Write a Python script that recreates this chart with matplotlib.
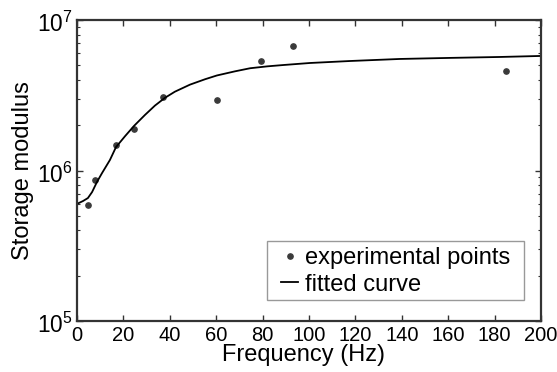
import matplotlib
matplotlib.use("Agg")
import matplotlib.pyplot as plt
from matplotlib.ticker import LogLocator, NullFormatter, FixedLocator
from matplotlib.patches import Rectangle
import matplotlib.transforms as mtransforms

plt.rcParams['font.family'] = ['Liberation Sans', 'DejaVu Sans']
plt.rcParams['mathtext.fontset'] = 'custom'
plt.rcParams['mathtext.rm'] = 'Liberation Sans'

# experimental points
exp_freq = [4.7, 7.8, 16.8, 24.6, 37.0, 60.2, 79.3, 93.1, 185.0]
exp_modulus = [5.9e5, 8.65e5, 1.48e6, 1.89e6, 3.08e6, 2.94e6, 5.34e6, 6.72e6, 4.58e6]

# fitted curve
fit_freq = [0.0, 2.6, 4.7, 6.5, 8.6, 10.8, 14.2, 16.8, 20.7, 24.6, 29.3, 33.6, 37.9,
            42.2, 48.7, 55.2, 60.3, 68.1, 74.6, 82.0, 88.8, 100.4, 117.7, 139.2,
            160.8, 182.3, 200.0]
fit_modulus = [6.0e5, 6.27e5, 6.56e5, 7.19e5, 8.39e5, 9.62e5, 1.175e6, 1.43e6, 1.69e6,
               1.98e6, 2.34e6, 2.70e6, 3.04e6, 3.34e6, 3.72e6, 4.04e6, 4.28e6, 4.56e6,
               4.78e6, 4.92e6, 5.02e6, 5.18e6, 5.34e6, 5.51e6, 5.60e6, 5.68e6, 5.77e6]

x_ticks = [0, 20, 40, 60, 80, 100, 120, 140, 160, 180, 200]
y_ticks = [1e5, 1e6, 1e7]
y_ticklabels = [r'$10^5$', r'$10^6$', r'$10^7$']

fig = plt.figure(figsize=(5.57, 3.72), dpi=100)
ax = fig.add_axes([77/557, 51/372, 464/557, 301/372])

ax.plot(exp_freq, exp_modulus, linestyle='none', marker='o', markersize=3.8,
        color='#3a3a3a', label='experimental points')
ax.plot(fit_freq, fit_modulus, color='black', linewidth=1.3, label='fitted curve',
        solid_joinstyle='round')

ax.set_yscale('log')
ax.set_xlim(0, 200)
ax.set_ylim(1e5, 1e7)
ax.xaxis.set_major_locator(FixedLocator(x_ticks))
ax.set_xticklabels([str(t) for t in x_ticks], fontsize=14.5)
ax.set_yticks(y_ticks)
ax.set_yticklabels(y_ticklabels, fontsize=16.3)
ax.yaxis.set_minor_locator(LogLocator(base=10, subs=range(2, 10)))
ax.yaxis.set_minor_formatter(NullFormatter())

ax.tick_params(axis='both', which='major', direction='in', length=4, width=1.0,
               top=True, right=True, color='#333333')
ax.tick_params(axis='x', which='major', pad=3.5)
ax.tick_params(axis='y', which='major', pad=3.5)
ax.tick_params(axis='y', which='minor', direction='in', length=2.5, width=0.8,
               left=True, right=True, color='#333333')

# shift y tick labels slightly downward like the reference
offset = mtransforms.ScaledTranslation(0, -2/100, fig.dpi_scale_trans)
for lbl in ax.get_yticklabels():
    lbl.set_transform(lbl.get_transform() + offset)

for s in ax.spines.values():
    s.set_linewidth(1.6)
    s.set_color('#333333')

ax.set_xlabel('Frequency (Hz)', fontsize=17)
ax.xaxis.set_label_coords(0.489, -0.075)
ax.set_ylabel('Storage modulus', fontsize=17, labelpad=2)

# legend (frame drawn separately to match the reference's padding)
leg = ax.legend(loc='center left', bbox_to_anchor=(0.4397, 0.165), fontsize=17,
                frameon=False, numpoints=1, handlelength=0.72,
                handletextpad=0.3, borderpad=0, labelspacing=0.2, borderaxespad=0)
ax.add_patch(Rectangle((0.4095, 0.0698), 0.554, 0.196, transform=ax.transAxes,
                       fill=True, facecolor='white', edgecolor='#999999',
                       linewidth=1.0, zorder=4.9))
leg.set_zorder(5)

fig.savefig('out.png', dpi=100)
